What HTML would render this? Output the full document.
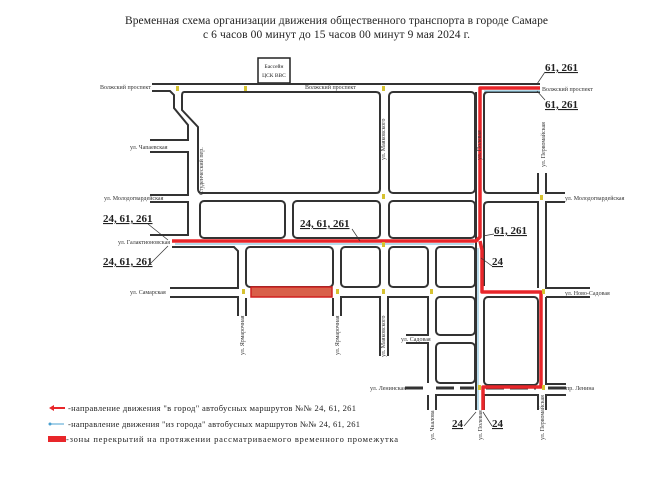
<!DOCTYPE html>
<html><head><meta charset="utf-8"><style>
html,body{margin:0;padding:0;background:#fff;}
svg{display:block;}
text{font-family:"Liberation Serif",serif;fill:#222;}
.s{font-size:6px;fill:#333;}
.b{font-size:11px;font-weight:bold;text-decoration:underline;}
</style></head><body>
<svg width="652" height="480" viewBox="0 0 652 480" xmlns="http://www.w3.org/2000/svg">
<text x="125" y="24" font-size="11.5" textLength="423">Временная схема организации движения общественного транспорта в городе Самаре</text>
<text x="203" y="38" font-size="11.5" textLength="267">с 6 часов 00 минут до 15 часов 00 минут 9 мая 2024 г.</text>
<rect x="258" y="58" width="32" height="25" fill="#fff" stroke="#222" stroke-width="1.5"/>
<text x="274" y="68" font-size="5.5" text-anchor="middle">Бассейн</text>
<text x="274" y="77" font-size="5.5" text-anchor="middle">ЦСК ВВС</text>
<g fill="none" stroke="#333" stroke-width="2">
<line x1="152" y1="84" x2="540" y2="84"/>
<polyline points="152,91 170,91 174,95 174,108 188,125 188,140 150,140"/>
<polyline points="150,152 188,152 188,195 150,195"/>
<polyline points="150,202 188,202 188,235 150,235"/>
<path d="M184,92 H376 Q380,92 380,96 V189 Q380,193 376,193 H202 Q198,193 198,189 V127 L182,110 V96 Q182,92 184,92 Z"/>
<rect x="200" y="201" width="85" height="37" rx="4"/>
<rect x="293" y="201" width="87" height="37" rx="4"/>
<rect x="389" y="92" width="86" height="101" rx="4"/>
<rect x="389" y="201" width="86" height="37" rx="4"/>
<path d="M540,92 H488 Q484,92 484,96 V189 Q484,193 488,193 H538 V173"/>
<path d="M546,173 V193 H565"/>
<path d="M565,202 H546 V288 H590"/>
<path d="M538,288 V202 H488 Q484,202 484,206 V286"/>
<polyline points="172,247 234,247 238,251 238,288 170,288"/>
<polyline points="170,297 238,297 238,316"/>
<rect x="246" y="247" width="87" height="40" rx="4"/>
<polyline points="246,316 246,298"/>
<polyline points="333,298 333,316"/>
<polyline points="341,316 341,297 380,297 380,356"/>
<rect x="341" y="247" width="39" height="40" rx="4"/>
<polyline points="388,356 388,297 428,297 428,335 406,335"/>
<rect x="389" y="247" width="39" height="40" rx="4"/>
<rect x="436" y="247" width="39" height="40" rx="4"/>
<rect x="436" y="297" width="39" height="38" rx="4"/>
<rect x="436" y="343" width="39" height="40" rx="4"/>
<polyline points="406,343 428,343 428,383"/>
<polyline points="428,410 428,395"/>
<polyline points="436,410 436,395 476,395 476,410"/>
<rect x="484" y="297" width="54" height="88" rx="4"/>
<polyline points="484,410 484,395 538,395 538,410"/>
<polyline points="546,410 546,395 566,395"/>
<polyline points="546,297 546,384 566,384"/>
<line x1="546" y1="297" x2="590" y2="297"/>
<line x1="476" y1="92" x2="476" y2="410"/>
</g>
<g stroke="#333" stroke-width="3" stroke-dasharray="18,6">
<line x1="405" y1="388" x2="428" y2="388"/>
<line x1="436" y1="388" x2="474" y2="388"/>
<line x1="486" y1="388" x2="536" y2="388"/>
<line x1="548" y1="388" x2="566" y2="388"/>
</g>
<g fill="none" stroke="#e8262a" stroke-width="3.5" stroke-linejoin="round">
<polyline points="172,241 476,241 480,237 480,88 540,88"/>
<polyline points="480,241 482,250 482,292 541,292 541,387 483,387 483,410"/>
</g>
<line x1="175" y1="244" x2="474" y2="244" stroke="#8cc6df" stroke-width="1.2"/>
<line x1="478" y1="248" x2="478" y2="410" stroke="#8cc6df" stroke-width="1.2"/>
<line x1="484" y1="91" x2="540" y2="91" stroke="#8cc6df" stroke-width="1.2"/>
<rect x="251" y="287" width="81" height="10" fill="#d9604a" stroke="#d02020" stroke-width="1.5"/>
<g fill="#d6c230">
<rect x="176" y="86" width="3" height="5"/><rect x="244" y="86" width="3" height="5"/><rect x="382" y="86" width="3" height="5"/>
<rect x="382" y="194" width="3" height="5"/><rect x="382" y="242" width="3" height="5"/><rect x="242" y="289" width="3" height="5"/>
<rect x="336" y="289" width="3" height="5"/><rect x="382" y="289" width="3" height="5"/><rect x="430" y="289" width="3" height="5"/>
<rect x="540" y="195" width="3" height="5"/><rect x="542" y="289" width="3" height="5"/><rect x="478" y="385" width="3" height="5"/><rect x="542" y="385" width="3" height="5"/>
</g>
<text class="s" x="100" y="89">Волжский проспект</text>
<text class="s" x="305" y="89">Волжский проспект</text>
<text class="s" x="542" y="91">Волжский проспект</text>
<text class="s" x="130" y="149">ул. Чапаевская</text>
<text class="s" x="104" y="200">ул. Молодогвардейская</text>
<text class="s" x="565" y="200">ул. Молодогвардейская</text>
<text class="s" x="118" y="244">ул. Галактионовская</text>
<text class="s" x="130" y="294">ул. Самарская</text>
<text class="s" x="565" y="295">ул. Ново-Садовая</text>
<text class="s" x="401" y="341">ул. Садовая</text>
<text class="s" x="370" y="390">ул. Ленинская</text>
<text class="s" x="566" y="390">пр. Ленина</text>
<g class="s">
<text transform="translate(203,195) rotate(-90)" class="s">Студенческий пер.</text>
<text transform="translate(385,160) rotate(-90)" class="s">ул. Маяковского</text>
<text transform="translate(481,160) rotate(-90)" class="s">ул. Полевая</text>
<text transform="translate(545,167) rotate(-90)" class="s">ул. Первомайская</text>
<text transform="translate(244,355) rotate(-90)" class="s">ул. Ярмарочная</text>
<text transform="translate(339,355) rotate(-90)" class="s">ул. Ярмарочная</text>
<text transform="translate(385,357) rotate(-90)" class="s">ул. Маяковского</text>
<text transform="translate(434,440) rotate(-90)" class="s">ул. Чкалова</text>
<text transform="translate(482,440) rotate(-90)" class="s">ул. Полевая</text>
<text transform="translate(544,440) rotate(-90)" class="s">ул. Первомайская</text>
</g>
<text class="b" x="545" y="71">61, 261</text>
<text class="b" x="545" y="108">61, 261</text>
<text class="b" x="103" y="222">24, 61, 261</text>
<text class="b" x="103" y="265">24, 61, 261</text>
<text class="b" x="300" y="227">24, 61, 261</text>
<text class="b" x="494" y="234">61, 261</text>
<text class="b" x="492" y="265">24</text>
<text class="b" x="452" y="427">24</text>
<text class="b" x="492" y="427">24</text>
<g stroke="#333" stroke-width="0.7" fill="none">
<line x1="545" y1="72" x2="537" y2="84"/><line x1="545" y1="100" x2="537" y2="91"/>
<line x1="148" y1="224" x2="168" y2="240"/><line x1="148" y1="266" x2="168" y2="246"/>
<line x1="352" y1="229" x2="360" y2="241"/><line x1="494" y1="234" x2="483" y2="236"/>
<line x1="492" y1="266" x2="481" y2="258"/><line x1="464" y1="426" x2="476" y2="412"/><line x1="492" y1="426" x2="483" y2="412"/>
</g>
<path d="M49,408 L54,405 V407 H65 V409 H54 V411 Z" fill="#e8262a"/>
<text x="68" y="411" font-size="8.5" textLength="288">-направление движения "в город" автобусных маршрутов №№ 24, 61, 261</text>
<line x1="50" y1="424" x2="64" y2="424" stroke="#4aa0d0" stroke-width="1"/>
<circle cx="50" cy="424" r="1.5" fill="#4aa0d0"/>
<text x="68" y="427" font-size="8.5" textLength="292">-направление движения "из города" автобусных маршрутов №№ 24, 61, 261</text>
<rect x="48" y="436" width="18" height="6" fill="#e8262a"/>
<text x="66" y="442" font-size="8.5" textLength="332">-зоны перекрытий на протяжении рассматриваемого временного промежутка</text>
</svg>
</body></html>
